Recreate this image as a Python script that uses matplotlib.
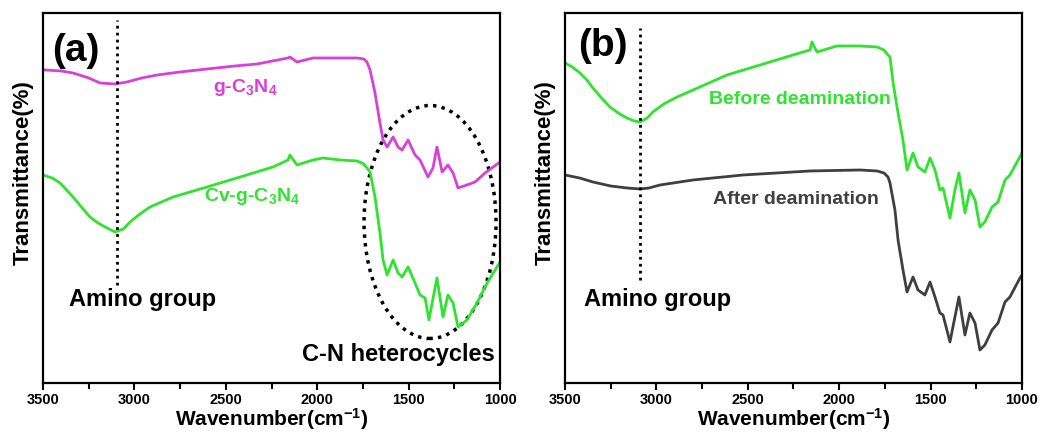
import matplotlib
matplotlib.use("Agg")
import matplotlib.pyplot as plt
from matplotlib.patches import Ellipse
from matplotlib.ticker import MultipleLocator

plt.rcParams['font.family'] = ['Liberation Sans', 'DejaVu Sans']
plt.rcParams['font.weight'] = 'bold'
plt.rcParams['mathtext.fontset'] = 'custom'
plt.rcParams['mathtext.rm'] = 'Liberation Sans:bold'
plt.rcParams['mathtext.default'] = 'rm'

# (a) g-C3N4 and Cv-g-C3N4 spectra (wavenumber, transmittance a.u.)
wn_g = [3500, 3489, 3400, 3336, 3250, 3188, 3106, 3041, 2960, 2876, 2750, 2603, 2450, 2329, 2160,
        2149, 2111, 2023, 1875, 1782, 1745, 1728, 1711, 1684, 1657, 1640, 1618, 1585, 1558, 1536,
        1503, 1465, 1438, 1394, 1367, 1345, 1317, 1285, 1257, 1230, 1181, 1137, 1082, 1000]
t_g = [313, 313, 312, 310, 305, 300, 299, 301, 305, 308, 311, 314, 317, 319, 325,
       326, 321, 325, 325, 325, 324, 321, 313, 290, 260, 243, 236, 246, 236, 233,
       243, 228, 223, 206, 215, 236, 211, 218, 210, 195, 198, 201, 210, 221]

wn_cv = [3500, 3450, 3407, 3336, 3290, 3243, 3200, 3150, 3106, 3060, 3024, 2970, 2915, 2789, 2603,
         2422, 2242, 2160, 2149, 2111, 2023, 1968, 1875, 1782, 1745, 1728, 1711, 1684, 1657, 1640,
         1618, 1585, 1558, 1536, 1503, 1465, 1438, 1410, 1389, 1361, 1345, 1312, 1285, 1257, 1230,
         1181, 1126, 1071, 1000]
t_cv = [208, 205, 200, 186, 176, 166, 160, 155, 151, 154, 161, 169, 176, 186, 196,
        206, 216, 223, 228, 218, 223, 225, 223, 222, 219, 215, 211, 186, 150, 123,
        108, 123, 110, 106, 116, 100, 88, 85, 63, 90, 105, 66, 88, 80, 56,
        63, 80, 100, 121]

# (b) before / after deamination
wn_before = [3500, 3460, 3418, 3380, 3347, 3300, 3254, 3200, 3161, 3120, 3090, 3050, 3019, 2960, 2887,
             2762, 2614, 2433, 2253, 2160, 2149, 2122, 2012, 1886, 1793, 1755, 1733, 1722, 1705, 1678,
             1651, 1629, 1596, 1569, 1531, 1503, 1476, 1449, 1432, 1394, 1367, 1345, 1312, 1285, 1257,
             1230, 1203, 1164, 1131, 1093, 1066, 1000]
t_before = [320, 316, 310, 303, 295, 285, 276, 269, 265, 262, 261, 265, 271, 279, 286,
            296, 308, 318, 328, 333, 341, 331, 337, 337, 336, 333, 328, 326, 300, 270,
            243, 213, 230, 216, 211, 225, 213, 193, 195, 165, 193, 210, 170, 193, 183,
            156, 161, 176, 181, 203, 208, 230]

wn_after = [3500, 3420, 3347, 3250, 3161, 3090, 3040, 2980, 2800, 2526, 2160, 1886, 1793, 1755, 1733,
            1722, 1695, 1678, 1651, 1629, 1596, 1569, 1531, 1503, 1476, 1449, 1432, 1394, 1367, 1345,
            1312, 1285, 1257, 1230, 1203, 1164, 1131, 1093, 1066, 1011, 1000]
t_after = [208, 205, 201, 197, 195, 194, 195, 198, 203, 208, 212, 213, 212, 210, 206,
           200, 173, 143, 113, 91, 106, 93, 88, 101, 86, 70, 68, 41, 66, 86,
           48, 70, 60, 33, 38, 53, 60, 81, 86, 105, 108]

magenta = '#d93fd9'
green = '#2fe32f'
grey = '#3f3f3f'

fig = plt.figure(figsize=(10.42, 4.36), dpi=100)
ax1 = fig.add_axes([0.0413, 0.1216, 0.4386, 0.8486])
ax2 = fig.add_axes([0.5422, 0.1216, 0.4386, 0.8486])

for ax in (ax1, ax2):
    ax.set_xlim(3500, 1000)
    ax.set_ylim(0, 370)
    ax.set_yticks([])
    ax.xaxis.set_major_locator(MultipleLocator(500))
    ax.xaxis.set_minor_locator(MultipleLocator(250))
    ax.tick_params(axis='x', which='major', direction='out', length=5, width=1.5, labelsize=10.5, pad=2.5)
    ax.tick_params(axis='x', which='minor', direction='out', length=4, width=1.5)
    for s in ax.spines.values():
        s.set_linewidth(1.6)
    ax.set_xlabel('Wavenumber(cm$^{-1}$)', fontsize=15, fontweight='bold', labelpad=-1)
    ax.set_ylabel('Transmittance(%)', fontsize=16, fontweight='bold')
    ax.yaxis.set_label_coords(-0.02, 0.57)

# panel (a)
ax1.plot(wn_g, t_g, color=magenta, lw=2)
ax1.plot(wn_cv, t_cv, color=green, lw=2)
ax1.plot([3095, 3095], [98, 363], color='black', lw=2, linestyle=(0, (1, 1.5)))
ax1.add_patch(Ellipse((1383, 161), 722, 233, fill=False, edgecolor='black',
                      lw=2.5, linestyle=(0, (1, 1.5))))
ax1.text(3319, 332, '(a)', fontsize=28, fontweight='bold', ha='center', va='center')
ax1.text(2395, 295, 'g-C$_3$N$_4$', color=magenta, fontsize=14, fontweight='bold',
         ha='center', va='center')
ax1.text(2357, 186, 'Cv-g-C$_3$N$_4$', color=green, fontsize=14, fontweight='bold',
         ha='center', va='center')
ax1.text(2958, 83, 'Amino group', fontsize=17, fontweight='bold', ha='center', va='center')
ax1.text(1558, 28, 'C-N heterocycles', fontsize=17, fontweight='bold', ha='center', va='center')

# panel (b)
ax2.plot(wn_before, t_before, color=green, lw=2)
ax2.plot(wn_after, t_after, color=grey, lw=2)
ax2.plot([3090, 3090], [103, 355], color='black', lw=2, linestyle=(0, (1, 1.5)))
ax2.text(3292, 337, '(b)', fontsize=28, fontweight='bold', ha='center', va='center')
ax2.text(2214, 283, 'Before deamination', color=green, fontsize=14, fontweight='bold',
         ha='center', va='center')
ax2.text(2236, 183, 'After deamination', color=grey, fontsize=14, fontweight='bold',
         ha='center', va='center')
ax2.text(2991, 83, 'Amino group', fontsize=17, fontweight='bold', ha='center', va='center')

fig.savefig('out.png', dpi=100)
